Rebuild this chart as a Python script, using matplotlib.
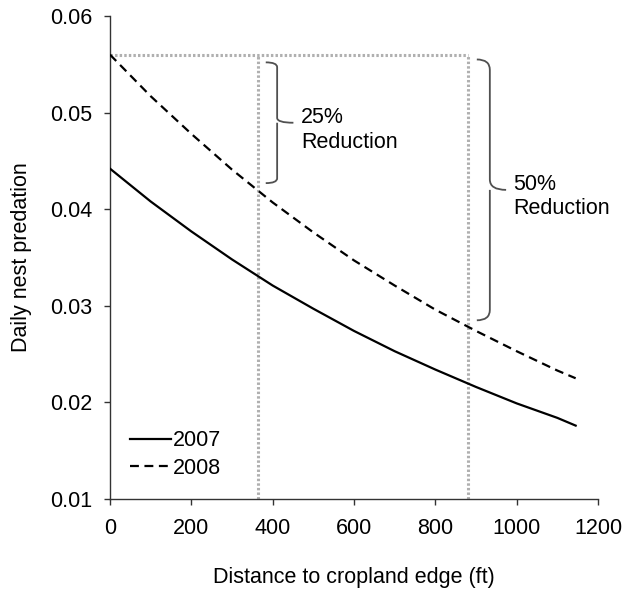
"""
Daily nest predation vs distance to cropland edge, 2007 and 2008.
"""
import matplotlib
matplotlib.use('Agg')
import matplotlib.pyplot as plt
from matplotlib.path import Path
from matplotlib.patches import PathPatch

plt.rcParams['font.family'] = ['Liberation Sans', 'DejaVu Sans']

# values
distance = [0, 100, 200, 300, 400, 500, 600, 700, 800, 900, 1000, 1100, 1145]
pred_2007 = [0.0442, 0.0408, 0.0377, 0.0348, 0.0321, 0.0297, 0.0274,
             0.0253, 0.0234, 0.0216, 0.0199, 0.0184, 0.0176]
pred_2008 = [0.0560, 0.0517, 0.0478, 0.0441, 0.0407, 0.0376, 0.0347,
             0.0321, 0.0296, 0.0274, 0.0253, 0.0233, 0.0225]

ref_level = 0.056
cut_25 = 365
cut_50 = 880

GUIDE = '#b0b0b0'
BRACE = '#505050'
FS = 15.5


def draw_brace(ax, x, y_top, y_bot, hook, tip):
    """Right-facing curly brace in data coords."""
    ym = (y_top + y_bot) / 2
    r = (y_top - y_bot) * 0.04
    verts = [
        (x - hook, y_top), (x, y_top), (x, y_top - r),
        (x, ym + r),
        (x, ym), (x + tip, ym),
        (x, ym), (x, ym - r),
        (x, y_bot + r),
        (x, y_bot), (x - hook, y_bot),
    ]
    codes = [Path.MOVETO, Path.CURVE3, Path.CURVE3,
             Path.LINETO,
             Path.CURVE3, Path.CURVE3,
             Path.MOVETO, Path.LINETO,
             Path.LINETO,
             Path.CURVE3, Path.CURVE3]
    ax.add_patch(PathPatch(Path(verts, codes), facecolor='none',
                           edgecolor=BRACE, lw=1.3, zorder=4))


fig = plt.figure(figsize=(6.26, 5.90), dpi=100)
ax = fig.add_axes([0.1757, 0.1542, 0.7796, 0.8187])

# guide lines
ax.plot([0, cut_50], [ref_level, ref_level], color=GUIDE, lw=2.2,
        linestyle=(0, (0.8, 0.7)), zorder=2)
for xc in (cut_25, cut_50):
    ax.plot([xc, xc], [0.01, ref_level], color=GUIDE, lw=2.2,
            linestyle=(0, (0.8, 0.7)), zorder=2)

ax.plot(distance, pred_2007, color='black', lw=1.6, label='2007', zorder=3)
ax.plot(distance, pred_2008, color='black', lw=1.6, linestyle=(0, (4, 2.5)),
        label='2008', zorder=3)

# braces + labels
draw_brace(ax, 411, 0.0552, 0.0427, 28, 40)
ax.text(470, 0.0482, '25%\nReduction', ha='left', va='center',
        fontsize=FS, linespacing=1.2)
draw_brace(ax, 934, 0.0555, 0.0285, 32, 40)
ax.text(991, 0.0413, '50%\nReduction', ha='left', va='center',
        fontsize=FS, linespacing=1.2)

ax.set_xlim(0, 1200)
ax.set_ylim(0.01, 0.06)
ax.set_xticks(range(0, 1201, 200))
ax.set_yticks([0.01, 0.02, 0.03, 0.04, 0.05, 0.06])
ax.set_yticklabels(['0.01', '0.02', '0.03', '0.04', '0.05', '0.06'])
ax.tick_params(direction='out', length=4, width=1, labelsize=FS, pad=9,
               colors='#333333', labelcolor='black')
ax.tick_params(axis='x', pad=10)
ax.spines['top'].set_visible(False)
ax.spines['right'].set_visible(False)
for s in ('left', 'bottom'):
    ax.spines[s].set_color('#333333')
    ax.spines[s].set_linewidth(1)

ax.set_xlabel('Distance to cropland edge (ft)', fontsize=FS, labelpad=20)
ax.set_ylabel('Daily nest predation', fontsize=FS, labelpad=13)

ax.legend(loc='lower left', bbox_to_anchor=(0.0, 0.0), frameon=False,
          fontsize=FS, handlelength=1.9, handletextpad=0.05,
          labelspacing=0.3, borderaxespad=0.55)

fig.savefig('out.png', dpi=100)
